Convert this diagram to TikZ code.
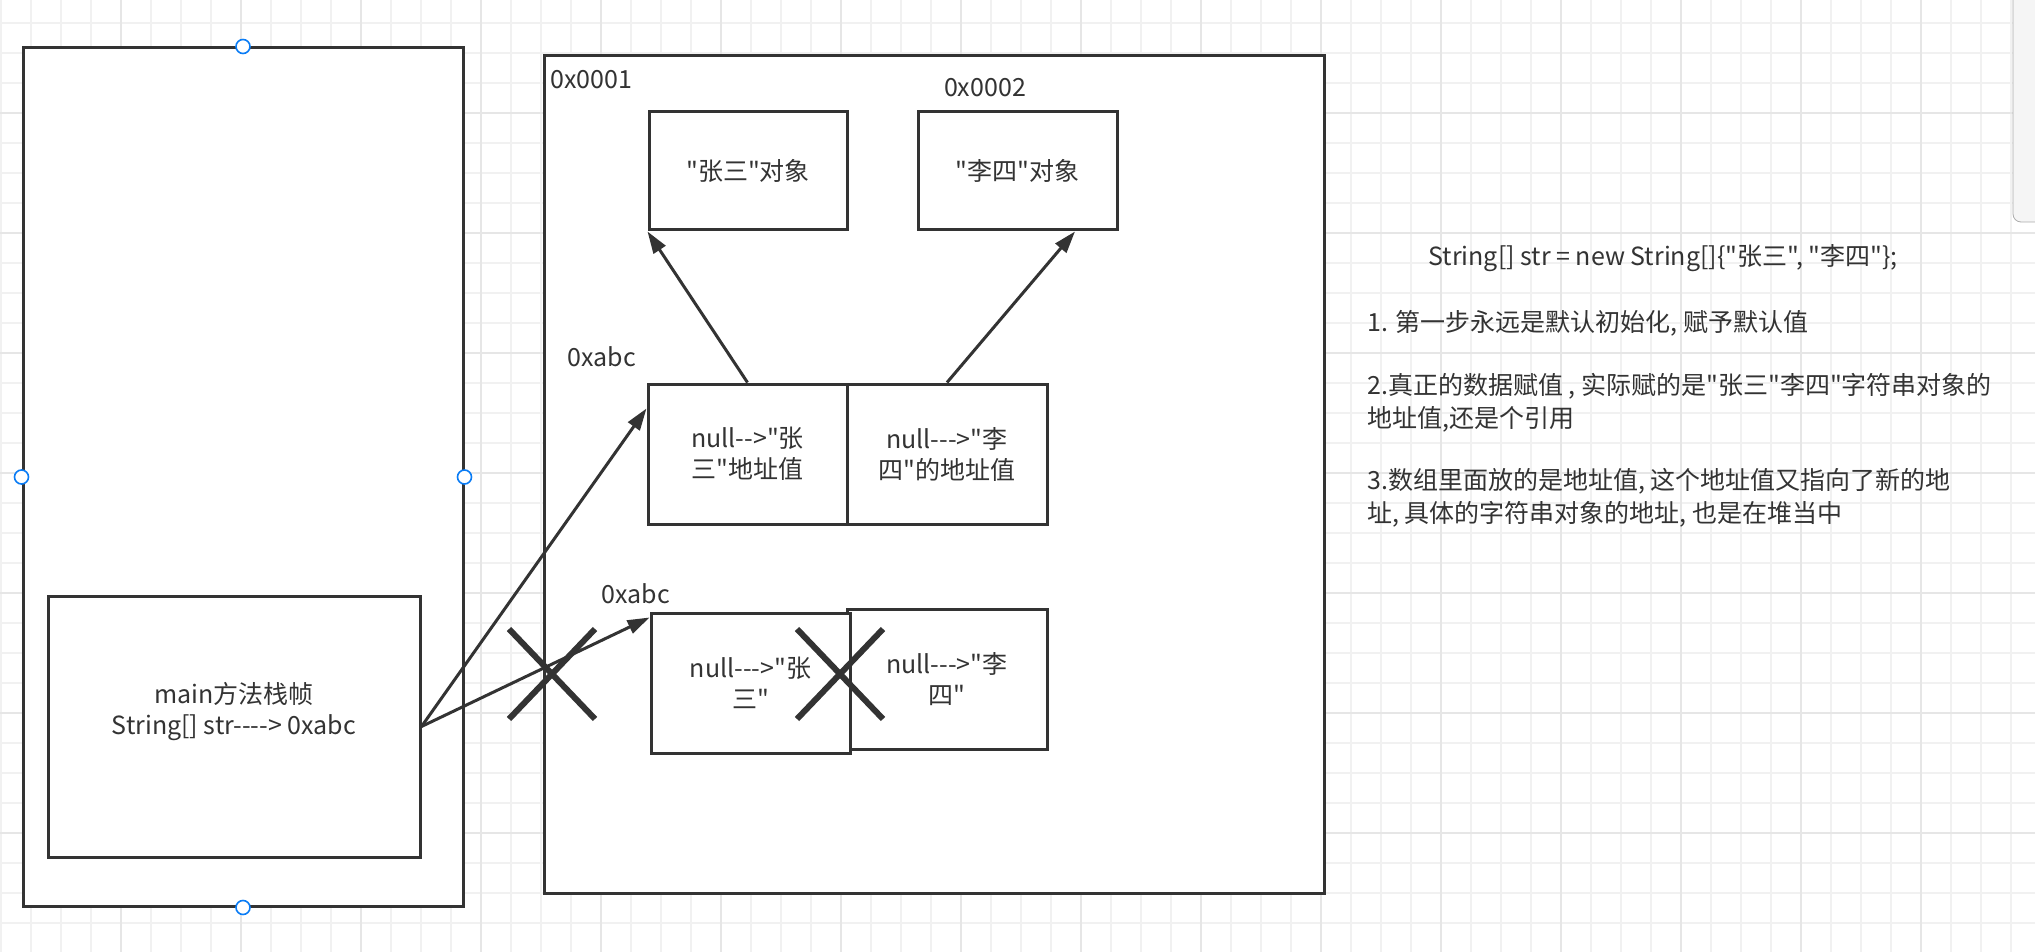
\documentclass[tikz,border=0pt]{standalone}
\usepackage{fontspec}
\setmainfont{Noto Sans CJK SC}[Ligatures=TeXOff]
\usetikzlibrary{arrows.meta,shapes.misc}

\definecolor{ink}{HTML}{333333}
\definecolor{gridminor}{HTML}{F1F1F1}
\definecolor{gridmajor}{HTML}{E6E6E6}
\definecolor{handle}{HTML}{0A7CF5}
\definecolor{panelgray}{HTML}{F5F5F5}
\definecolor{panelline}{HTML}{ABABAB}

\begin{document}
\begin{tikzpicture}[x=0.5pt, y=-0.5pt,
    font=\fontsize{12.5}{15.5}\selectfont, text=ink,
    box/.style={draw=ink, line width=1.5pt, fill=white, align=center},
    ptr/.style={draw=ink, line width=1.5pt, -{Triangle[length=11pt,width=7pt]}},
    xmark/.style={draw=ink, cross out, line width=3pt, minimum width=40pt, minimum height=42pt, inner sep=0pt},
    handlept/.style={circle, draw=handle, fill=white, line width=0.8pt, minimum size=7pt, inner sep=0pt},
    addr/.style={inner sep=0pt}]
    \useasboundingbox (0,0) rectangle (2035,952);

    % 网格
    \fill[white] (0,0) rectangle (2035,952);
    \foreach \gx in {1,31,...,2035} {
        \draw[gridminor, line width=0.6pt] (\gx,0) -- (\gx,952);
    }
    \foreach \gy in {23,53,...,952} {
        \draw[gridminor, line width=0.6pt] (0,\gy) -- (2035,\gy);
    }
    \foreach \gx in {121,241,...,2035} {
        \draw[gridmajor, line width=0.9pt] (\gx,0) -- (\gx,952);
    }
    \foreach \gy in {113,233,...,952} {
        \draw[gridmajor, line width=0.9pt] (0,\gy) -- (2035,\gy);
    }
    \draw[panelline, fill=panelgray, rounded corners=4pt] (2013,-20) rectangle (2060,222);

    % 栈
    \node[box, minimum width=220pt, minimum height=429pt] (stack) at (243,477) {};
    \foreach \a in {north,west,east,south} {
        \node[handlept] (h-\a) at (stack.\a) {};
    }
    \node[box, minimum width=186pt, minimum height=130.5pt] (mainframe) at (234,726.5) {};
    \node[align=center] (maintext) at (234,712) {main方法栈帧\\String[] str----> 0xabc};

    % 堆
    \node[box, minimum width=390pt, minimum height=418.5pt] (heap) at (934,474.5) {};
    \node[addr, anchor=west] (addr1) at (550,80) {0x0001};
    \node[addr] (addr2) at (985,88) {0x0002};
    \node[box, minimum width=99pt, minimum height=59pt] (objzs) at (748,171) {"张三"对象};
    \node[box, minimum width=99.5pt, minimum height=59pt] (objls) at (1017.5,171) {"李四"对象};

    % 数组 0xabc
    \node[addr] (addr3) at (602,357) {0xabc};
    \node[box, minimum width=99.5pt, minimum height=70pt] (arrA) at (747.5,454) {null-->"张\\三"地址值};
    \node[box, minimum width=100pt, minimum height=70pt] (arrB) at (947,454) {null--->"李\\四"的地址值};

    \node[addr] (addr4) at (636,594) {0xabc};
    \node[box, minimum width=100pt, minimum height=70pt] (oldB) at (947,679.5) {null--->"李\\四"};
    \node[box, minimum width=99.5pt, minimum height=70pt] (oldA) at (750.5,683) {null--->"张\\三"};

    % 引用
    \draw[ptr] (arrA.north) -- (objzs.south west);
    \draw[ptr] (arrB.north) -- ([xshift=28.75pt]objls.south);
    \draw[ptr] (mainframe.east) -- ([yshift=-13pt]arrA.north west);
    \draw[ptr] (mainframe.east) -- ([yshift=-3pt]oldA.north west);

    % 作废
    \node[xmark] (cut1) at (552,674) {};
    \node[xmark] (cut2) at (840,674) {};

    % 说明
    \node[anchor=north west, align=left, inner sep=0pt,
          font=\fontsize{12.5}{16.5}\selectfont] (notes) at (1367,244) {%
        \hspace*{30.5pt}String[] str = new String[]\{"张三", "李四"\};\\[16.5pt]
        1. 第一步永远是默认初始化, 赋予默认值\\[15pt]
        2.真正的数据赋值 , 实际赋的是"张三"李四"字符串对象的\\
        地址值,还是个引用\\[14.5pt]
        3.数组里面放的是地址值, 这个地址值又指向了新的地\\
        址, 具体的字符串对象的地址, 也是在堆当中};
\end{tikzpicture}
\end{document}
